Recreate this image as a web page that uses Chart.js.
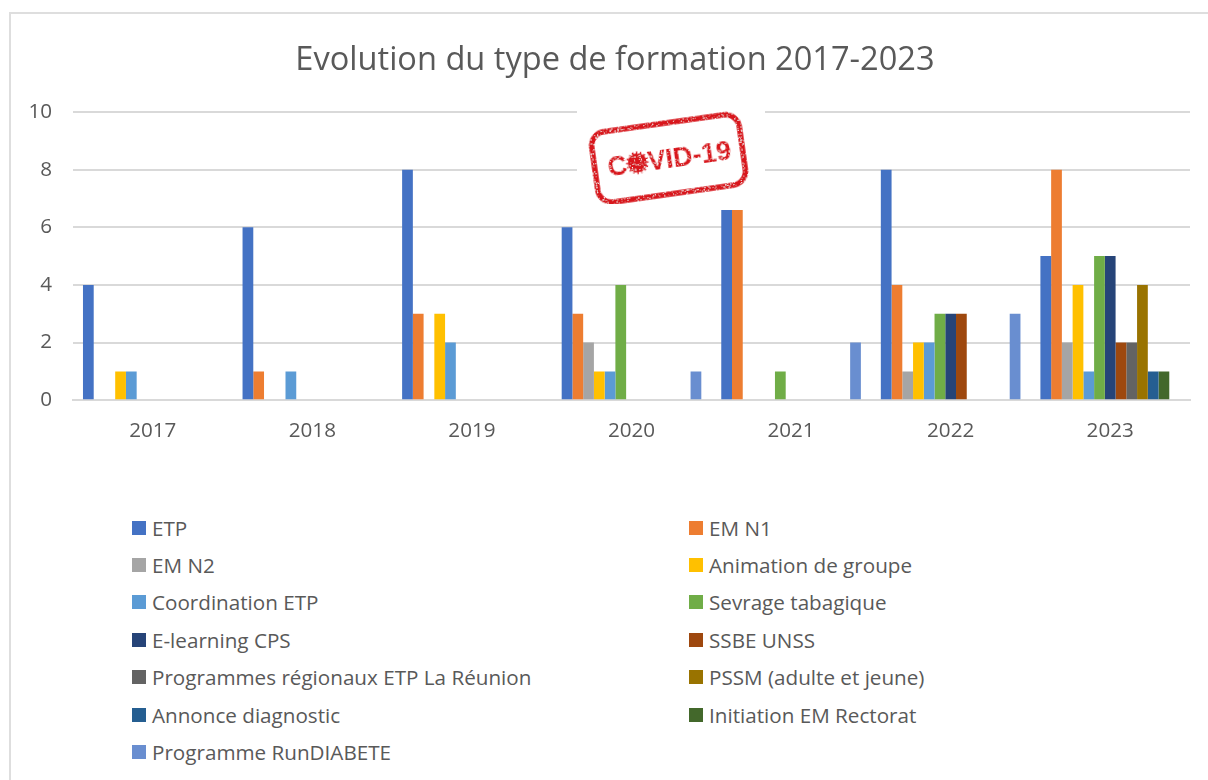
<!DOCTYPE html>
<html>
<head>
<meta charset="utf-8">
<style>
  html, body { margin: 0; padding: 0; background: #fff; }
  body { width: 1208px; height: 780px; position: relative; overflow: hidden; font-family: "Open Sans", sans-serif; }
  #frame { position: absolute; left: 9px; top: 12px; width: 1300px; height: 900px; border: 2px solid #dedede; box-sizing: border-box; }
  #wrap { position: absolute; left: 0; top: 0; width: 1208px; height: 460px; }
  #title { position: absolute; left: 0; top: 36px; width: 1230px; text-align: center; color: #595959; font: 32.6px/44px "Open Sans", sans-serif; }
  #legend { position: absolute; left: 132px; top: 509px; width: 1040px; display: grid; grid-template-columns: 557px 1fr; grid-auto-rows: 37.4px; color: #595959; font: 20.65px "Open Sans", sans-serif; }
  #legend div { display: flex; align-items: center; height: 37.4px; white-space: nowrap; }
  #legend i { display: inline-block; width: 14px; height: 14px; margin-right: 6px; }
  #stamp { position: absolute; left: 577px; top: 98px; }
</style>
<script src="https://cdn.jsdelivr.net/npm/chart.js@4"></script>
</head>
<body>
<div id="frame"></div>
<div id="wrap"><canvas id="myChart" width="1208" height="460"></canvas></div>
<div id="title">Evolution du type de formation 2017-2023</div>
<svg id="stamp" width="188" height="106" viewBox="0 0 188 106">
  <defs>
    <filter id="rough" x="-5%" y="-5%" width="110%" height="110%">
      <feTurbulence type="fractalNoise" baseFrequency="0.9" numOctaves="2" seed="4" result="n"/>
      <feColorMatrix in="n" type="matrix" values="0 0 0 0 1  0 0 0 0 1  0 0 0 0 1  0 0 0 -6 2.3" result="w"/>
      <feComposite in="w" in2="SourceAlpha" operator="in" result="spots"/>
      <feMerge><feMergeNode in="SourceGraphic"/><feMergeNode in="spots"/></feMerge>
    </filter>
  </defs>
  <rect width="188" height="106" fill="#fff"/>
  <g transform="rotate(-8 91 60)" filter="url(#rough)" fill="#d8181f">
    <rect x="17" y="25" width="149" height="71" rx="14" fill="none" stroke="#d8181f" stroke-width="5.5"/>
    <text x="30" y="70" font-family="Liberation Sans" font-weight="bold" font-size="27">COVID-19</text>
    <circle cx="60" cy="60.5" r="7.5"/>
    <circle cx="60" cy="60.5" r="9.5" fill="none" stroke="#d8181f" stroke-width="3.5" stroke-dasharray="1.4 2.3"/>
  </g>
</svg>
<div id="legend"></div>
<script>
const years = ['2017', '2018', '2019', '2020', '2021', '2022', '2023'];
const seriesNames = ['ETP', 'EM N1', 'EM N2', 'Animation de groupe', 'Coordination ETP', 'Sevrage tabagique', 'E-learning CPS', 'SSBE UNSS', 'Programmes régionaux ETP La Réunion', 'PSSM (adulte et jeune)', 'Annonce diagnostic', 'Initiation EM Rectorat', 'Programme RunDIABETE'];
const colors = ['#4472c4', '#ed7d31', '#a5a5a5', '#ffc000', '#5b9bd5', '#70ad47', '#264478', '#9e480e', '#636363', '#997300', '#255e91', '#43682b', '#698ed0'];

const etp = [4, 6, 8, 6, 6.6, 8, 5];
const emN1 = [0, 1, 3, 3, 6.6, 4, 8];
const emN2 = [0, 0, 0, 2, 0, 1, 2];
const animation = [1, 0, 3, 1, 0, 2, 4];
const coordination = [1, 1, 2, 1, 0, 2, 1];
const sevrage = [0, 0, 0, 4, 1, 3, 5];
const elearning = [0, 0, 0, 0, 0, 3, 5];
const ssbe = [0, 0, 0, 0, 0, 3, 2];
const programmes = [0, 0, 0, 0, 0, 0, 2];
const pssm = [0, 0, 0, 0, 0, 0, 4];
const annonce = [0, 0, 0, 0, 0, 0, 1];
const initiation = [0, 0, 0, 0, 0, 0, 1];
const runDiabete = [0, 0, 0, 1, 2, 3, 0];
const allSeries = [etp, emN1, emN2, animation, coordination, sevrage, elearning, ssbe, programmes, pssm, annonce, initiation, runDiabete];

const ctx = document.getElementById('myChart');
const chart = new Chart(ctx, {
    type: 'bar',
    data: {
        labels: years,
        datasets: seriesNames.map((name, i) => ({
            label: name,
            data: allSeries[i],
            backgroundColor: colors[i],
            barPercentage: 1,
            categoryPercentage: 0.875
        }))
    },
    options: {
        responsive: false,
        animation: false,
        layout: { padding: { left: 0, right: 18, top: 112, bottom: 5 } },
        plugins: {
            legend: { display: false },
            tooltip: { enabled: false },
            title: { display: false }
        },
        scales: {
            x: {
                grid: { display: false },
                border: { color: '#d9d9d9', width: 2 },
                ticks: { color: '#595959', font: { family: 'Open Sans', size: 20.65 }, padding: 11 }
            },
            y: {
                min: 0,
                max: 10,
                afterFit: (axis) => { axis.width = 73; },
                grid: { color: '#d9d9d9', lineWidth: 2, drawTicks: false },
                border: { display: false },
                ticks: { stepSize: 2, color: '#595959', font: { family: 'Open Sans', size: 20.65 }, padding: 21 }
            }
        }
    }
});

const legendEl = document.getElementById('legend');
chart.data.datasets.forEach((ds) => {
    const row = document.createElement('div');
    const box = document.createElement('i');
    box.style.background = ds.backgroundColor;
    row.appendChild(box);
    row.appendChild(document.createTextNode(ds.label));
    legendEl.appendChild(row);
});
</script>
</body>
</html>
